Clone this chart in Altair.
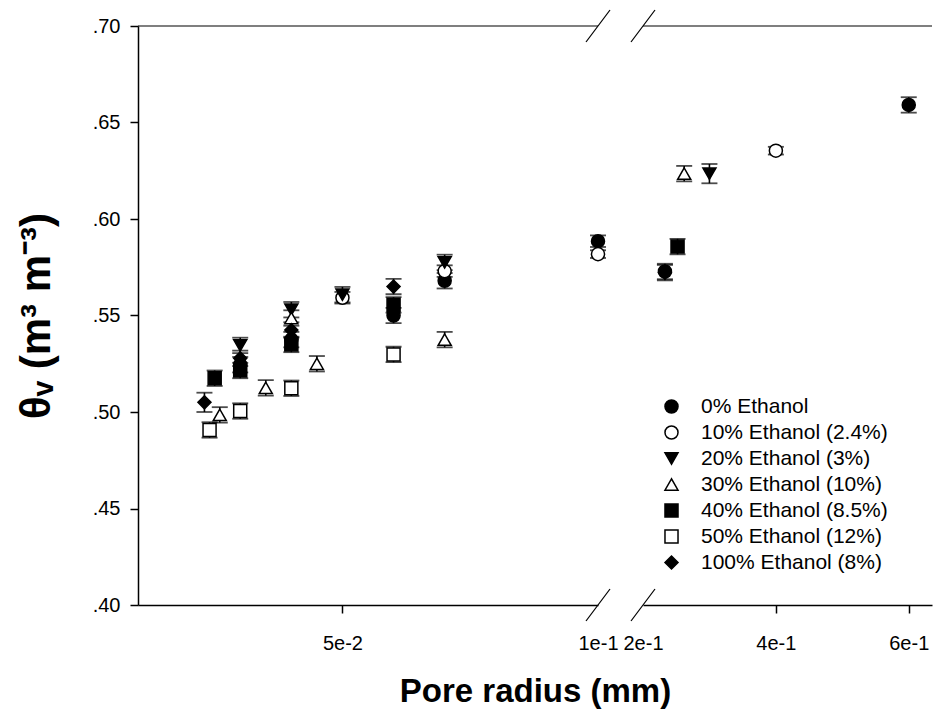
import altair as alt
import pandas as pd

SERIES = ["0% Ethanol", "10% Ethanol (2.4%)", "20% Ethanol (3%)", "30% Ethanol (10%)",
          "40% Ethanol (8.5%)", "50% Ethanol (12%)", "100% Ethanol (8%)"]
SHAPES = ["circle", "circle", "triangle-down", "triangle-up", "square", "square", "diamond"]
FILLS = ["black", "white", "black", "white", "black", "white", "black"]
STROKES = ["black"] * 7
SIZES = [170, 170, 215, 215, 165, 165, 270]

# Pore radius (mm)
RADIUS = {
    "0% Ethanol":         [0.030, 0.040, 0.060, 0.070, 0.100, 0.233, 0.600],
    "10% Ethanol (2.4%)": [0.050, 0.070, 0.100, 0.400],
    "20% Ethanol (3%)":   [0.030, 0.040, 0.050, 0.070, 0.300],
    "30% Ethanol (10%)":  [0.026, 0.035, 0.040, 0.045, 0.070, 0.262],
    "40% Ethanol (8.5%)": [0.025, 0.030, 0.040, 0.060, 0.252],
    "50% Ethanol (12%)":  [0.024, 0.030, 0.040, 0.060],
    "100% Ethanol (8%)":  [0.023, 0.030, 0.040, 0.060, 0.233],
}
# Volumetric water content theta_v (m3 m-3)
THETA = {
    "0% Ethanol":         [0.5245, 0.5375, 0.5500, 0.5680, 0.5885, 0.5728, 0.6591],
    "10% Ethanol (2.4%)": [0.5592, 0.5730, 0.5818, 0.6354],
    "20% Ethanol (3%)":   [0.5345, 0.5530, 0.5608, 0.5775, 0.6235],
    "30% Ethanol (10%)":  [0.4985, 0.5125, 0.5487, 0.5250, 0.5375, 0.6235],
    "40% Ethanol (8.5%)": [0.5175, 0.5215, 0.5350, 0.5555, 0.5857],
    "50% Ethanol (12%)":  [0.4907, 0.5005, 0.5123, 0.5298],
    "100% Ethanol (8%)":  [0.5050, 0.5278, 0.5425, 0.5650, 0.5722],
}
# Error (+/-)
ERR = {
    "0% Ethanol":         [0.004, 0.004, 0.004, 0.004, 0.003, 0.004, 0.004],
    "10% Ethanol (2.4%)": [0.003, 0.003, 0.002, 0.002],
    "20% Ethanol (3%)":   [0.004, 0.004, 0.004, 0.004, 0.005],
    "30% Ethanol (10%)":  [0.004, 0.004, 0.004, 0.004, 0.004, 0.004],
    "40% Ethanol (8.5%)": [0.004, 0.004, 0.004, 0.004, 0.004],
    "50% Ethanol (12%)":  [0.004, 0.004, 0.004, 0.004],
    "100% Ethanol (8%)":  [0.005, 0.004, 0.004, 0.004, 0.004],
}

rows = []
for s in SERIES:
    for r, t, e in zip(RADIUS[s], THETA[s], ERR[s]):
        rows.append({"series": s, "r": r, "theta": t, "lo": t - e, "hi": t + e})
df = pd.DataFrame(rows)
df_left = df[df["r"] <= 0.1]
df_right = df[df["r"] > 0.1]

FONT = "Liberation Sans"
W, H = 794, 579
LEFT_END, RIGHT_START = 460, 505

y_scale = alt.Scale(domain=[0.40, 0.70], nice=False, zero=False)
y_axis = alt.Axis(
    values=[0.40, 0.45, 0.50, 0.55, 0.60, 0.65, 0.70],
    labelExpr="substring(format(datum.value, '.2f'), 1)",
    title="θᵥ (m³ m⁻³)", titleFont=FONT, titleFontSize=42, titleFontWeight="bold",
    titleColor="black", titleX=-80, titleY=H / 2,
    labelFont=FONT, labelFontSize=20, labelColor="black", labelPadding=10,
    tickSize=8, tickColor="black", tickWidth=1.5, domainColor="black", domainWidth=1.5,
    grid=False,
)


def Y(field):
    return alt.Y(field + ":Q", scale=y_scale, axis=y_axis)


shape_legend = alt.Legend(
    orient="none", legendX=523, legendY=370, title=None,
    labelFont=FONT, labelFontSize=21, labelColor="black", labelOffset=19, labelLimit=0,
    symbolStrokeWidth=1.5, rowPadding=4, padding=0,
)
shape_enc = alt.Shape("series:N", scale=alt.Scale(domain=SERIES, range=SHAPES), legend=shape_legend)
fill_enc = alt.Fill("series:N", scale=alt.Scale(domain=SERIES, range=FILLS), legend=shape_legend)
stroke_enc = alt.Stroke("series:N", scale=alt.Scale(domain=SERIES, range=STROKES), legend=shape_legend)
size_enc = alt.Size("series:N", scale=alt.Scale(domain=SERIES, range=SIZES), legend=shape_legend)

common_x_axis = dict(
    format=".0e", labelFont=FONT, labelFontSize=20, labelColor="black",
    labelPadding=20, tickSize=8, tickColor="black", tickWidth=1.5,
    domainColor="black", domainWidth=1.5, grid=False, orient="bottom",
    labelFlush=False, labelOverlap=False, labelBound=False,
)

x_left = alt.X(
    "r:Q",
    scale=alt.Scale(domain=[0.01, 0.1], range=[0, LEFT_END], nice=False, zero=False),
    axis=alt.Axis(values=[0.05, 0.1],
                  tickOpacity={"condition": {"test": "datum.value > 0.09", "value": 0}, "value": 1},
                  title="Pore radius (mm)", titleFont=FONT, titleFontSize=33,
                  titleFontWeight="bold", titleColor="black",
                  titleX=W / 2, titleY=86, titleBaseline="middle",
                  **common_x_axis),
)
x_right = alt.X(
    "r:Q",
    scale=alt.Scale(domain=[0.2, 0.635], range=[RIGHT_START, W], nice=False, zero=False),
    axis=alt.Axis(values=[0.2, 0.4, 0.6],
                  tickOpacity={"condition": {"test": "datum.value < 0.25", "value": 0}, "value": 1},
                  title=None, **common_x_axis),
)


def panel(data, xenc):
    base = alt.Chart(data)
    rule = base.mark_rule(color="black", strokeWidth=1.6).encode(x=xenc, y=Y("lo"), y2="hi:Q")
    cap_lo = base.mark_tick(color="black", orient="horizontal", size=16, thickness=1.8).encode(x=xenc, y=Y("lo"))
    cap_hi = base.mark_tick(color="black", orient="horizontal", size=16, thickness=1.8).encode(x=xenc, y=Y("hi"))
    pts = base.mark_point(filled=True, opacity=1, strokeWidth=1.5).encode(
        x=xenc, y=Y("theta"), shape=shape_enc, fill=fill_enc, stroke=stroke_enc, size=size_enc,
    )
    return alt.layer(rule, cap_lo, cap_hi, pts)


one = pd.DataFrame({"k": [0]})


def line(x1, x2, y1, y2):
    return alt.Chart(one).mark_rule(color="black", strokeWidth=1.2).encode(
        x=alt.value(x1), x2=alt.value(x2), y=alt.value(y1), y2=alt.value(y2)
    )


deco = alt.layer(
    line(0, LEFT_END, 0, 0),
    line(RIGHT_START, W, 0, 0),
    line(LEFT_END - 12, LEFT_END + 12, 16, -16),
    line(RIGHT_START - 12, RIGHT_START + 12, 16, -16),
    line(LEFT_END - 12, LEFT_END + 12, H + 16, H - 16),
    line(RIGHT_START - 12, RIGHT_START + 12, H + 16, H - 16),
)

chart = alt.layer(
    panel(df_left, x_left), panel(df_right, x_right), deco
).resolve_scale(x="independent").resolve_axis(x="independent").properties(
    width=W, height=H,
    autosize=alt.AutoSizeParams(type="none"),
    padding={"left": 138, "top": 26, "right": 1, "bottom": 109},
    background="white",
).configure_view(stroke=None)

chart.save("out.html", embed_options={"renderer": "svg", "actions": False})
